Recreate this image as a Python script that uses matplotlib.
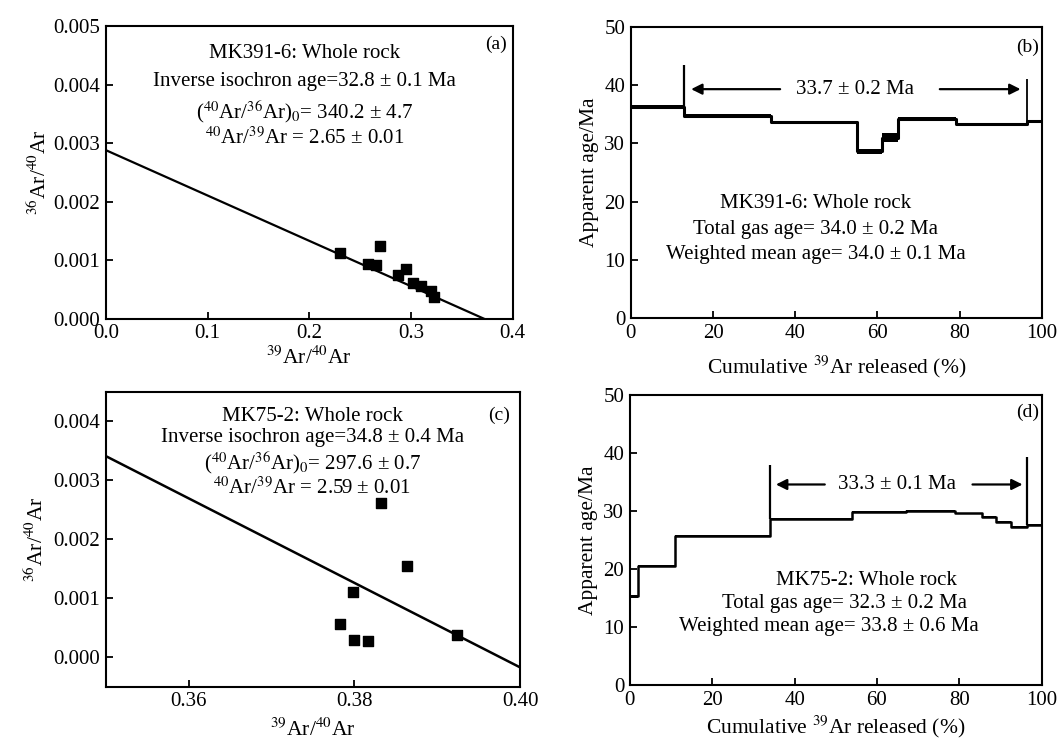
import numpy as np
import matplotlib
matplotlib.use('Agg')
from matplotlib import pyplot as plt

plt.rcParams['font.family'] = ['Liberation Serif', 'DejaVu Serif']
plt.rcParams['mathtext.fontset'] = 'stix'
plt.rcParams['font.size'] = 15

# (a) MK391-6 inverse isochron
a_x = [0.230, 0.269, 0.258, 0.266, 0.287, 0.295, 0.302, 0.310, 0.320, 0.323]
a_y = [0.00112, 0.00125, 0.00093, 0.00092, 0.00075, 0.00086, 0.00061, 0.00056, 0.00047, 0.00038]
a_line_x = [0.0, 0.372]
a_line_y = [0.00288, 0.0]

# (b) MK391-6 age spectrum
b_edges = [0, 13, 34, 55, 61, 65, 79, 96.5, 100]
b_age = [36.2, 34.7, 33.6, 28.6, 31.0, 34.2, 33.3, 33.8]
b_err = [0.3, 0.25, 0.25, 0.5, 0.8, 0.3, 0.25, 0.25]

# (c) MK75-2 inverse isochron
c_x = [0.3832, 0.3863, 0.3798, 0.3782, 0.3800, 0.3816, 0.3924]
c_y = [0.00262, 0.00155, 0.00110, 0.00056, 0.00029, 0.00027, 0.00038]
c_line_x = [0.35, 0.40]
c_line_y = [0.00341, -0.00017]

# (d) MK75-2 age spectrum
d_edges = [0, 2, 11, 34, 54, 67, 79, 85.5, 89, 92.5, 96.5, 100]
d_age = [15.3, 20.5, 25.7, 28.6, 29.8, 30.0, 29.6, 29.0, 28.2, 27.3, 27.6]
d_err = [0.2, 0.2, 0.2, 0.2, 0.15, 0.15, 0.15, 0.15, 0.15, 0.15, 0.15]

fig = plt.figure(figsize=(10.62, 7.45), dpi=100)
ax_a = fig.add_axes([0.0998, 0.572, 0.383, 0.393])
ax_b = fig.add_axes([0.594, 0.573, 0.387, 0.391])
ax_c = fig.add_axes([0.0998, 0.078, 0.390, 0.396])
ax_d = fig.add_axes([0.593, 0.0805, 0.388, 0.389])

for ax in [ax_a, ax_b, ax_c, ax_d]:
    ax.tick_params(direction='in', length=5, width=1.3, labelsize=15, pad=4)
    for s in ax.spines.values():
        s.set_linewidth(1.5)

# ---- (a)
ax_a.plot(a_line_x, a_line_y, color='k', lw=1.6)
ax_a.scatter(a_x, a_y, marker='s', s=45, color='k', zorder=3)
ax_a.set_xlim(0, 0.4)
ax_a.set_ylim(0, 0.005)
ax_a.set_xticks([0.0, 0.1, 0.2, 0.3, 0.4])
ax_a.set_xticklabels(['0.0', '0.1', '0.2', '0.3', '0.4'])
ax_a.set_yticks([0, 0.001, 0.002, 0.003, 0.004, 0.005])
ax_a.set_yticklabels(['0.000', '0.001', '0.002', '0.003', '0.004', '0.005'])
ax_a.set_xlabel(r'$^{39}$Ar/$^{40}$Ar', fontsize=15.5, labelpad=2)
ax_a.set_ylabel(r'$^{36}$Ar/$^{40}$Ar', fontsize=15.5, labelpad=2)
a_txt = ['MK391-6: Whole rock',
         'Inverse isochron age=32.8 ± 0.1 Ma',
         r'($^{40}$Ar/$^{36}$Ar)$_0$= 340.2 ± 4.7',
         r'$^{40}$Ar/$^{39}$Ar = 2.65 ± 0.01']
for t, yy in zip(a_txt, [0.00453, 0.00406, 0.00354, 0.00308]):
    ax_a.text(0.1954, yy, t, ha='center', va='center', fontsize=15)
ax_a.text(0.384, 0.00468, '(a)', ha='center', va='center', fontsize=14)

# ---- (b)
b_top = np.array(b_age) + np.array(b_err)
b_bot = np.array(b_age) - np.array(b_err)
ax_b.fill_between(b_edges, list(b_bot) + [b_bot[-1]], list(b_top) + [b_top[-1]],
                  step='post', color='k', lw=0)
ax_b.step(b_edges, b_age + [b_age[-1]], where='post', color='k', lw=2.2)
ax_b.vlines(13, b_age[0], 43.5, color='k', lw=1.6)
ax_b.vlines(96.5, b_age[-1], 41.0, color='k', lw=1.3)
ax_b.annotate('', xy=(14, 39.3), xytext=(37, 39.3),
              arrowprops=dict(arrowstyle='-|>', color='k', lw=1.6, mutation_scale=16))
ax_b.annotate('', xy=(95.5, 39.3), xytext=(74.5, 39.3),
              arrowprops=dict(arrowstyle='-|>', color='k', lw=1.6, mutation_scale=16))
ax_b.text(54.5, 39.3, '33.7 ± 0.2 Ma', ha='center', va='center', fontsize=15)
b_txt = ['MK391-6: Whole rock',
         'Total gas age= 34.0 ± 0.2 Ma',
         'Weighted mean age= 34.0 ± 0.1 Ma']
for t, yy in zip(b_txt, [19.7, 15.2, 10.9]):
    ax_b.text(45, yy, t, ha='center', va='center', fontsize=15)
ax_b.text(96.5, 46.5, '(b)', ha='center', va='center', fontsize=14)
ax_b.set_xlim(0, 100)
ax_b.set_ylim(0, 50)
ax_b.set_xticks([0, 20, 40, 60, 80, 100])
ax_b.set_yticks([0, 10, 20, 30, 40, 50])
ax_b.set_xlabel(r'Cumulative $^{39}$Ar released (%)', fontsize=15.5, labelpad=8)
ax_b.set_ylabel('Apparent age/Ma', fontsize=15.5, labelpad=4)

# ---- (c)
ax_c.plot(c_line_x, c_line_y, color='k', lw=1.8)
ax_c.scatter(c_x, c_y, marker='s', s=45, color='k', zorder=3)
ax_c.set_xlim(0.35, 0.40)
ax_c.set_ylim(-0.0005, 0.0045)
ax_c.set_xticks([0.36, 0.38, 0.40])
ax_c.set_xticklabels(['0.36', '0.38', '0.40'])
ax_c.set_yticks([0, 0.001, 0.002, 0.003, 0.004])
ax_c.set_yticklabels(['0.000', '0.001', '0.002', '0.003', '0.004'])
ax_c.set_xlabel(r'$^{39}$Ar/$^{40}$Ar', fontsize=15.5, labelpad=5)
ax_c.set_ylabel(r'$^{36}$Ar/$^{40}$Ar', fontsize=15.5, labelpad=4)
c_txt = ['MK75-2: Whole rock',
         'Inverse isochron age=34.8 ± 0.4 Ma',
         r'($^{40}$Ar/$^{36}$Ar)$_0$= 297.6 ± 0.7',
         r'$^{40}$Ar/$^{39}$Ar = 2.59 ± 0.01']
for t, yy in zip(c_txt, [0.00408, 0.00372, 0.00330, 0.00287]):
    ax_c.text(0.3749, yy, t, ha='center', va='center', fontsize=15)
ax_c.text(0.3975, 0.00411, '(c)', ha='center', va='center', fontsize=14)

# ---- (d)
d_top = np.array(d_age) + np.array(d_err)
d_bot = np.array(d_age) - np.array(d_err)
ax_d.fill_between(d_edges, list(d_bot) + [d_bot[-1]], list(d_top) + [d_top[-1]],
                  step='post', color='k', lw=0)
ax_d.step(d_edges, d_age + [d_age[-1]], where='post', color='k', lw=1.8)
ax_d.vlines(34, d_age[3], 38.0, color='k', lw=1.6)
ax_d.vlines(96.5, d_age[-1], 39.3, color='k', lw=1.6)
ax_d.annotate('', xy=(34.8, 34.6), xytext=(48, 34.6),
              arrowprops=dict(arrowstyle='-|>', color='k', lw=1.6, mutation_scale=16))
ax_d.annotate('', xy=(96, 34.6), xytext=(82.5, 34.6),
              arrowprops=dict(arrowstyle='-|>', color='k', lw=1.6, mutation_scale=16))
ax_d.text(64.8, 34.6, '33.3 ± 0.1 Ma', ha='center', va='center', fontsize=15)
d_txt = ['MK75-2: Whole rock',
         'Total gas age= 32.3 ± 0.2 Ma',
         'Weighted mean age= 33.8 ± 0.6 Ma']
for t, xx, yy in zip(d_txt, [57.5, 52.2, 48.2], [18.0, 14.1, 10.1]):
    ax_d.text(xx, yy, t, ha='center', va='center', fontsize=15)
ax_d.text(96.5, 47.0, '(d)', ha='center', va='center', fontsize=14)
ax_d.set_xlim(0, 100)
ax_d.set_ylim(0, 50)
ax_d.set_xticks([0, 20, 40, 60, 80, 100])
ax_d.set_yticks([0, 10, 20, 30, 40, 50])
ax_d.set_xlabel(r'Cumulative $^{39}$Ar released (%)', fontsize=15.5, labelpad=3)
ax_d.set_ylabel('Apparent age/Ma', fontsize=15.5, labelpad=4)

plt.savefig('out.png', dpi=100)
